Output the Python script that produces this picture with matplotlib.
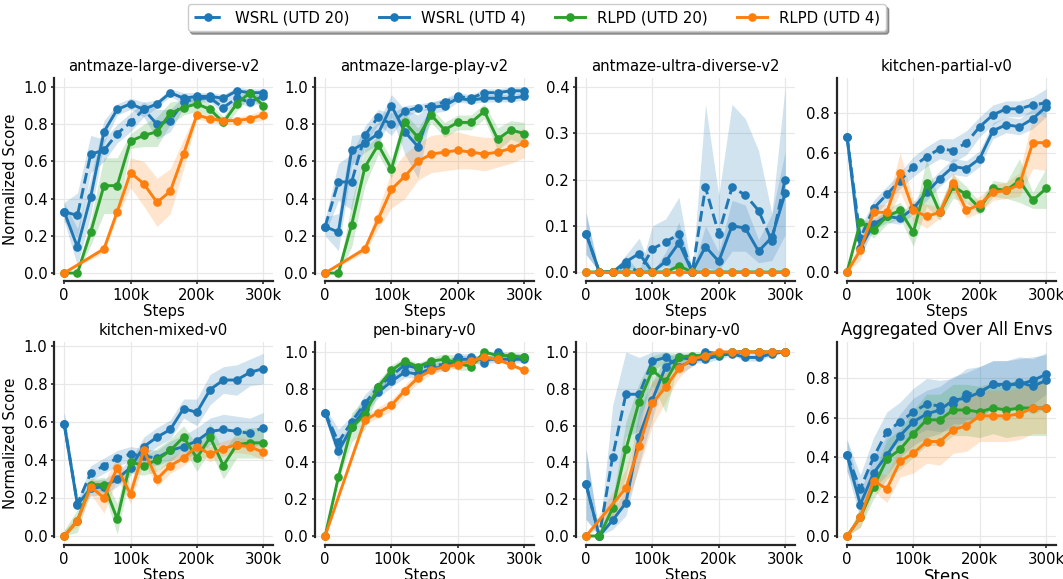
import numpy as np
import matplotlib.pyplot as plt
import matplotlib.ticker as mticker

# ── Theme ─────────────────────────────────────────────────────────────────────
BLUE   = "#1f77b4"
GREEN  = "#2ca02c"
ORANGE = "#ff7f0e"
SPINE  = "#262626"
GRID   = "#e8e8e8"

plt.rcParams["font.family"] = ["DejaVu Sans"]
plt.rcParams["font.size"] = 10.7
plt.rcParams["axes.edgecolor"] = SPINE
plt.rcParams["axes.linewidth"] = 1.6

# ── Data ──────────────────────────────────────────────────────────────────────
STEPS = [0, 20000, 40000, 60000, 80000, 100000, 120000, 140000, 160000,
         180000, 200000, 220000, 240000, 260000, 280000, 300000]
# RLPD (UTD 4) in some envs has no evals at 20k / 40k
STEPS_LATE = [0, 60000, 80000, 100000, 120000, 140000, 160000,
              180000, 200000, 220000, 240000, 260000, 280000, 300000]

# antmaze-large-diverse-v2
ALD_W20     = [0.33, 0.31, 0.64, 0.66, 0.75, 0.81, 0.88, 0.80, 0.82, 0.92, 0.94, 0.94, 0.89, 0.94, 0.92, 0.95]
ALD_W20_ERR = [0.05, 0.12, 0.10, 0.06, 0.05, 0.05, 0.04, 0.08, 0.06, 0.03, 0.02, 0.02, 0.03, 0.02, 0.03, 0.02]
ALD_W4      = [0.33, 0.14, 0.41, 0.76, 0.88, 0.91, 0.88, 0.91, 0.97, 0.94, 0.95, 0.95, 0.94, 0.98, 0.97, 0.97]
ALD_W4_ERR  = [0.05, 0.10, 0.10, 0.06, 0.03, 0.03, 0.04, 0.02, 0.02, 0.03, 0.02, 0.02, 0.02, 0.02, 0.02, 0.02]
ALD_R20     = [0.00, 0.00, 0.22, 0.47, 0.47, 0.71, 0.74, 0.76, 0.86, 0.89, 0.91, 0.88, 0.81, 0.91, 0.97, 0.90]
ALD_R20_ERR = [0.00, 0.00, 0.07, 0.15, 0.15, 0.04, 0.06, 0.08, 0.06, 0.04, 0.04, 0.03, 0.03, 0.04, 0.02, 0.03]
ALD_R4      = [0.00, 0.13, 0.33, 0.54, 0.48, 0.38, 0.44, 0.64, 0.85, 0.83, 0.82, 0.82, 0.83, 0.85]
ALD_R4_ERR  = [0.00, 0.02, 0.03, 0.08, 0.12, 0.13, 0.12, 0.08, 0.02, 0.02, 0.02, 0.02, 0.02, 0.03]

# antmaze-large-play-v2
ALP_W20     = [0.25, 0.49, 0.49, 0.74, 0.84, 0.80, 0.87, 0.89, 0.90, 0.92, 0.95, 0.94, 0.97, 0.97, 0.98, 0.98]
ALP_W20_ERR = [0.04, 0.10, 0.15, 0.05, 0.04, 0.06, 0.03, 0.02, 0.02, 0.02, 0.02, 0.02, 0.02, 0.02, 0.02, 0.02]
ALP_W4      = [0.25, 0.22, 0.66, 0.70, 0.75, 0.90, 0.76, 0.68, 0.89, 0.90, 0.94, 0.93, 0.94, 0.94, 0.94, 0.95]
ALP_W4_ERR  = [0.05, 0.10, 0.08, 0.05, 0.06, 0.06, 0.12, 0.17, 0.03, 0.03, 0.02, 0.02, 0.02, 0.02, 0.02, 0.02]
ALP_R20     = [0.00, 0.00, 0.26, 0.57, 0.69, 0.56, 0.81, 0.73, 0.85, 0.77, 0.81, 0.81, 0.87, 0.72, 0.77, 0.75]
ALP_R20_ERR = [0.00, 0.00, 0.12, 0.10, 0.05, 0.05, 0.05, 0.05, 0.04, 0.04, 0.04, 0.04, 0.04, 0.06, 0.05, 0.06]
ALP_R4      = [0.00, 0.13, 0.29, 0.45, 0.52, 0.60, 0.64, 0.65, 0.66, 0.65, 0.64, 0.65, 0.67, 0.70]
ALP_R4_ERR  = [0.00, 0.02, 0.05, 0.10, 0.12, 0.10, 0.10, 0.10, 0.10, 0.09, 0.09, 0.08, 0.08, 0.08]

# antmaze-ultra-diverse-v2
AUD_W20     = [0.083, 0.0, 0.0, 0.015, 0.0, 0.05, 0.065, 0.082, 0.0, 0.183, 0.083, 0.183, 0.167, 0.133, 0.067, 0.20]
AUD_W20_ERR = [0.045, 0.0, 0.0, 0.020, 0.0, 0.05, 0.050, 0.080, 0.0, 0.180, 0.083, 0.180, 0.165, 0.130, 0.060, 0.20]
AUD_W4      = [0.083, 0.0, 0.0, 0.022, 0.04, 0.0, 0.023, 0.063, 0.0, 0.055, 0.023, 0.10, 0.095, 0.045, 0.075, 0.17]
AUD_W4_ERR  = [0.045, 0.0, 0.0, 0.015, 0.033, 0.0, 0.020, 0.045, 0.0, 0.045, 0.020, 0.055, 0.050, 0.025, 0.050, 0.09]
AUD_R20     = [0.0, 0.0, 0.0, 0.0, 0.0, 0.0, 0.0, 0.013, 0.0, 0.0, 0.0, 0.0, 0.0, 0.0, 0.0, 0.0]
AUD_R20_ERR = [0.0, 0.0, 0.0, 0.0, 0.0, 0.0, 0.0, 0.008, 0.0, 0.0, 0.0, 0.0, 0.0, 0.0, 0.0, 0.0]
AUD_R4      = [0.0, 0.0, 0.0, 0.0, 0.0, 0.0, 0.0, 0.0, 0.0, 0.0, 0.0, 0.0, 0.0, 0.0, 0.0, 0.0]
AUD_R4_ERR  = [0.0, 0.0, 0.0, 0.0, 0.0, 0.0, 0.0, 0.0, 0.0, 0.0, 0.0, 0.0, 0.0, 0.0, 0.0, 0.0]

# kitchen-partial-v0
KP_W20      = [0.68, 0.17, 0.32, 0.39, 0.46, 0.53, 0.58, 0.62, 0.61, 0.65, 0.73, 0.79, 0.82, 0.82, 0.84, 0.85]
KP_W20_ERR  = [0.04, 0.05, 0.04, 0.04, 0.04, 0.05, 0.05, 0.05, 0.06, 0.06, 0.05, 0.05, 0.04, 0.04, 0.04, 0.07]
KP_W4       = [0.68, 0.12, 0.24, 0.28, 0.27, 0.32, 0.40, 0.47, 0.53, 0.52, 0.57, 0.71, 0.74, 0.73, 0.77, 0.83]
KP_W4_ERR   = [0.04, 0.04, 0.03, 0.03, 0.03, 0.03, 0.04, 0.04, 0.04, 0.04, 0.04, 0.04, 0.04, 0.04, 0.05, 0.05]
KP_R20      = [0.00, 0.25, 0.21, 0.28, 0.31, 0.20, 0.45, 0.30, 0.43, 0.39, 0.32, 0.42, 0.41, 0.46, 0.36, 0.42]
KP_R20_ERR  = [0.00, 0.02, 0.04, 0.04, 0.04, 0.07, 0.12, 0.04, 0.06, 0.04, 0.03, 0.04, 0.04, 0.11, 0.04, 0.10]
KP_R4       = [0.00, 0.11, 0.30, 0.30, 0.50, 0.31, 0.28, 0.30, 0.45, 0.31, 0.34, 0.40, 0.41, 0.44, 0.65, 0.65]
KP_R4_ERR   = [0.00, 0.05, 0.04, 0.04, 0.10, 0.05, 0.06, 0.03, 0.05, 0.04, 0.04, 0.04, 0.04, 0.06, 0.13, 0.14]

# kitchen-mixed-v0
KM_W20      = [0.59, 0.17, 0.33, 0.37, 0.41, 0.43, 0.42, 0.41, 0.45, 0.47, 0.50, 0.55, 0.56, 0.55, 0.54, 0.57]
KM_W20_ERR  = [0.06, 0.02, 0.04, 0.04, 0.04, 0.04, 0.04, 0.04, 0.05, 0.06, 0.07, 0.07, 0.08, 0.08, 0.08, 0.08]
KM_W4       = [0.59, 0.165, 0.25, 0.26, 0.30, 0.36, 0.47, 0.52, 0.56, 0.67, 0.65, 0.77, 0.82, 0.82, 0.86, 0.88]
KM_W4_ERR   = [0.06, 0.02, 0.04, 0.04, 0.04, 0.04, 0.05, 0.05, 0.05, 0.05, 0.07, 0.08, 0.07, 0.08, 0.07, 0.08]
KM_R20      = [0.00, 0.08, 0.27, 0.27, 0.09, 0.39, 0.37, 0.40, 0.45, 0.52, 0.41, 0.52, 0.37, 0.48, 0.49, 0.49]
KM_R20_ERR  = [0.03, 0.06, 0.03, 0.04, 0.08, 0.06, 0.05, 0.06, 0.06, 0.06, 0.07, 0.07, 0.07, 0.07, 0.08, 0.08]
KM_R4       = [0.00, 0.08, 0.26, 0.20, 0.36, 0.22, 0.45, 0.30, 0.37, 0.41, 0.47, 0.43, 0.46, 0.48, 0.47, 0.44]
KM_R4_ERR   = [0.03, 0.03, 0.04, 0.08, 0.06, 0.05, 0.06, 0.04, 0.04, 0.04, 0.04, 0.04, 0.04, 0.04, 0.04, 0.04]

# pen-binary-v0
PEN_W20     = [0.67, 0.51, 0.62, 0.72, 0.81, 0.87, 0.93, 0.91, 0.93, 0.93, 0.97, 0.97, 0.94, 1.00, 0.97, 0.97]
PEN_W20_ERR = [0.03, 0.07, 0.03, 0.05, 0.03, 0.03, 0.02, 0.02, 0.02, 0.02, 0.02, 0.02, 0.02, 0.01, 0.02, 0.02]
PEN_W4      = [0.67, 0.46, 0.59, 0.69, 0.78, 0.84, 0.89, 0.88, 0.91, 0.92, 0.96, 0.96, 0.96, 0.96, 0.96, 0.96]
PEN_W4_ERR  = [0.03, 0.05, 0.03, 0.03, 0.03, 0.03, 0.03, 0.02, 0.02, 0.02, 0.02, 0.02, 0.02, 0.02, 0.02, 0.02]
PEN_R20     = [0.00, 0.32, 0.59, 0.66, 0.81, 0.90, 0.95, 0.92, 0.95, 0.96, 0.94, 0.92, 1.00, 0.98, 0.98, 0.97]
PEN_R20_ERR = [0.00, 0.02, 0.08, 0.08, 0.03, 0.03, 0.02, 0.02, 0.02, 0.03, 0.04, 0.02, 0.01, 0.02, 0.02, 0.02]
PEN_R4      = [0.00, 0.63, 0.67, 0.71, 0.79, 0.86, 0.90, 0.92, 0.93, 0.95, 0.97, 0.96, 0.93, 0.90]
PEN_R4_ERR  = [0.00, 0.02, 0.03, 0.03, 0.03, 0.03, 0.02, 0.02, 0.02, 0.02, 0.02, 0.01, 0.01, 0.01]

# door-binary-v0
DOOR_W20     = [0.28, 0.00, 0.43, 0.77, 0.77, 0.95, 0.97, 0.92, 0.95, 1.00, 0.99, 1.00, 1.00, 1.00, 1.00, 1.00]
DOOR_W20_ERR = [0.19, 0.01, 0.28, 0.23, 0.20, 0.05, 0.03, 0.04, 0.03, 0.01, 0.01, 0.01, 0.01, 0.01, 0.01, 0.00]
DOOR_W4      = [0.28, 0.00, 0.085, 0.18, 0.54, 0.74, 0.92, 0.97, 0.96, 0.96, 0.98, 0.99, 0.97, 0.97, 0.99, 1.00]
DOOR_W4_ERR  = [0.19, 0.01, 0.05, 0.07, 0.15, 0.10, 0.05, 0.03, 0.02, 0.02, 0.02, 0.01, 0.02, 0.02, 0.01, 0.00]
DOOR_R20     = [0.00, 0.00, 0.15, 0.47, 0.73, 0.90, 0.84, 0.97, 0.98, 0.98, 0.99, 1.00, 1.00, 1.00, 1.00, 1.00]
DOOR_R20_ERR = [0.00, 0.00, 0.05, 0.15, 0.10, 0.08, 0.17, 0.02, 0.02, 0.02, 0.01, 0.01, 0.00, 0.00, 0.00, 0.00]
DOOR_R4      = [0.00, 0.26, 0.49, 0.72, 0.81, 0.91, 0.96, 0.98, 1.00, 1.00, 1.00, 1.00, 1.00, 1.00]
DOOR_R4_ERR  = [0.00, 0.10, 0.12, 0.12, 0.08, 0.05, 0.03, 0.01, 0.00, 0.00, 0.00, 0.00, 0.00, 0.00]

# aggregated over all envs
AGG_W20     = [0.41, 0.24, 0.40, 0.53, 0.58, 0.63, 0.67, 0.66, 0.67, 0.72, 0.73, 0.77, 0.76, 0.78, 0.76, 0.79]
AGG_W20_ERR = [0.08, 0.07, 0.10, 0.10, 0.10, 0.12, 0.13, 0.13, 0.13, 0.13, 0.13, 0.12, 0.13, 0.13, 0.14, 0.14]
AGG_W4      = [0.41, 0.16, 0.32, 0.41, 0.51, 0.58, 0.62, 0.64, 0.69, 0.70, 0.73, 0.77, 0.77, 0.77, 0.79, 0.82]
AGG_W4_ERR  = [0.08, 0.07, 0.08, 0.10, 0.11, 0.12, 0.12, 0.12, 0.12, 0.13, 0.13, 0.12, 0.12, 0.13, 0.12, 0.10]
AGG_R20     = [0.00, 0.095, 0.25, 0.39, 0.44, 0.52, 0.59, 0.59, 0.64, 0.64, 0.63, 0.65, 0.64, 0.65, 0.65, 0.65]
AGG_R20_ERR = [0.00, 0.05, 0.06, 0.10, 0.10, 0.12, 0.13, 0.13, 0.13, 0.13, 0.13, 0.13, 0.14, 0.14, 0.14, 0.14]
AGG_R4      = [0.00, 0.095, 0.28, 0.24, 0.38, 0.42, 0.48, 0.48, 0.54, 0.56, 0.61, 0.61, 0.61, 0.62, 0.65, 0.65]
AGG_R4_ERR  = [0.00, 0.05, 0.05, 0.07, 0.08, 0.10, 0.11, 0.12, 0.12, 0.13, 0.13, 0.13, 0.13, 0.13, 0.13, 0.13]

PANELS = [
    ("antmaze-large-diverse-v2", (-0.043, 1.049), [0, .2, .4, .6, .8, 1.0],
     [(ALD_W20, ALD_W20_ERR, STEPS), (ALD_W4, ALD_W4_ERR, STEPS),
      (ALD_R20, ALD_R20_ERR, STEPS), (ALD_R4, ALD_R4_ERR, STEPS_LATE)]),
    ("antmaze-large-play-v2", (-0.043, 1.049), [0, .2, .4, .6, .8, 1.0],
     [(ALP_W20, ALP_W20_ERR, STEPS), (ALP_W4, ALP_W4_ERR, STEPS),
      (ALP_R20, ALP_R20_ERR, STEPS), (ALP_R4, ALP_R4_ERR, STEPS_LATE)]),
    ("antmaze-ultra-diverse-v2", (-0.0196, 0.42), [0, .1, .2, .3, .4],
     [(AUD_W20, AUD_W20_ERR, STEPS), (AUD_W4, AUD_W4_ERR, STEPS),
      (AUD_R20, AUD_R20_ERR, STEPS), (AUD_R4, AUD_R4_ERR, STEPS)]),
    ("kitchen-partial-v0", (-0.045, 0.975), [0, .2, .4, .6, .8],
     [(KP_W20, KP_W20_ERR, STEPS), (KP_W4, KP_W4_ERR, STEPS),
      (KP_R20, KP_R20_ERR, STEPS), (KP_R4, KP_R4_ERR, STEPS)]),
    ("kitchen-mixed-v0", (-0.047, 1.02), [0, .2, .4, .6, .8, 1.0],
     [(KM_W20, KM_W20_ERR, STEPS), (KM_W4, KM_W4_ERR, STEPS),
      (KM_R20, KM_R20_ERR, STEPS), (KM_R4, KM_R4_ERR, STEPS)]),
    ("pen-binary-v0", (-0.049, 1.054), [0, .2, .4, .6, .8, 1.0],
     [(PEN_W20, PEN_W20_ERR, STEPS), (PEN_W4, PEN_W4_ERR, STEPS),
      (PEN_R20, PEN_R20_ERR, STEPS), (PEN_R4, PEN_R4_ERR, STEPS_LATE)]),
    ("door-binary-v0", (-0.049, 1.054), [0, .2, .4, .6, .8, 1.0],
     [(DOOR_W20, DOOR_W20_ERR, STEPS), (DOOR_W4, DOOR_W4_ERR, STEPS),
      (DOOR_R20, DOOR_R20_ERR, STEPS), (DOOR_R4, DOOR_R4_ERR, STEPS_LATE)]),
    ("Aggregated Over All Envs", (-0.045, 0.985), [0, .2, .4, .6, .8],
     [(AGG_W20, AGG_W20_ERR, STEPS), (AGG_W4, AGG_W4_ERR, STEPS),
      (AGG_R20, AGG_R20_ERR, STEPS), (AGG_R4, AGG_R4_ERR, STEPS)]),
]

LABELS = ["WSRL (UTD 20)", "WSRL (UTD 4)", "RLPD (UTD 20)", "RLPD (UTD 4)"]
COLORS = [BLUE, BLUE, GREEN, ORANGE]
STYLES = ["--", "-", "-", "-"]

# ── Figure ────────────────────────────────────────────────────────────────────
fig, axes = plt.subplots(2, 4, figsize=(10.63, 5.79), dpi=100)
fig.subplots_adjust(left=0.051, right=0.9934, top=0.8653, bottom=0.0587,
                    wspace=0.192, hspace=0.30)

handles = []
for i, (ax, (title, ylim, yticks, series)) in enumerate(zip(axes.flat, PANELS)):
    for (vals, err, xs), lab, col, ls in zip(series, LABELS, COLORS, STYLES):
        vals = np.array(vals)
        err = np.array(err)
        lo = np.clip(vals - err, 0, 1)
        hi = np.clip(vals + err, 0, 1)
        ax.fill_between(xs, lo, hi, color=col, alpha=0.2, linewidth=0)
        h, = ax.plot(xs, vals, color=col, linestyle=ls, linewidth=2.1,
                     marker="o", markersize=5.2, label=lab)
        if i == 0:
            handles.append(h)

    fs = 11.9 if title.startswith("Aggregated") else 10.7
    ax.set_title(title, fontsize=fs, pad=5)
    ax.set_xlim(-15000, 315000)
    ax.set_ylim(*ylim)
    ax.set_xticks([0, 100000, 200000, 300000])
    ax.xaxis.set_major_formatter(mticker.FuncFormatter(
        lambda v, _: "0" if v == 0 else f"{v/1000:.0f}k"))
    ax.set_yticks(yticks)
    ax.yaxis.set_major_formatter(mticker.FormatStrFormatter("%.1f"))
    ax.set_xlabel("Steps", fontsize=fs, labelpad=1)
    if i % 4 == 0:
        ax.set_ylabel("Normalized Score")

    ax.grid(True, color=GRID, linewidth=0.9)
    ax.set_axisbelow(True)
    ax.tick_params(length=2.5, width=1.2, color=SPINE, pad=2.5, labelsize=10.7)
    ax.spines["top"].set_visible(False)
    ax.spines["right"].set_visible(False)
    # spines start at the data origin, as in the reference
    ax.spines["left"].set_bounds(-0.005 * ylim[1], ylim[1])
    ax.spines["bottom"].set_bounds(0, 315000)

fig.legend(handles, LABELS, loc="upper center", ncol=4, bbox_to_anchor=(0.505, 1.0),
           frameon=True, shadow=True, fontsize=10.7, fancybox=True,
           borderaxespad=0.3)

fig.savefig("out.png", dpi=100)
